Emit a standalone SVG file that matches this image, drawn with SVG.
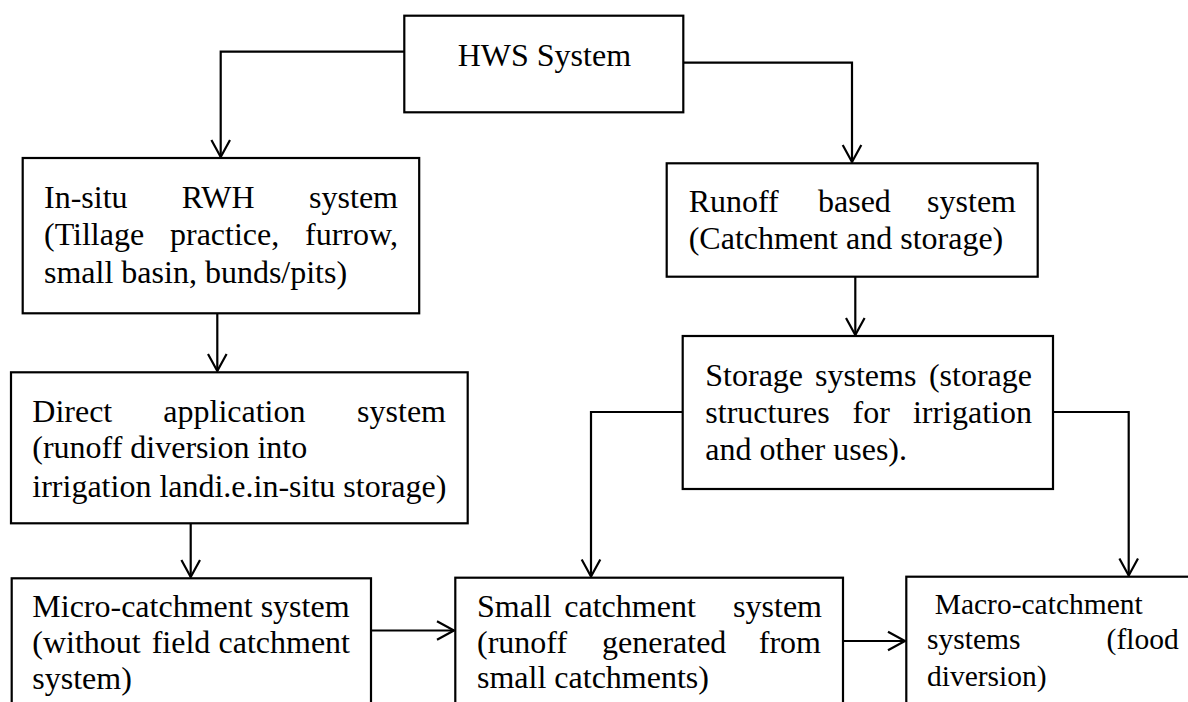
<svg xmlns="http://www.w3.org/2000/svg" width="1188" height="702" viewBox="0 0 1188 702">
<style>
.box{fill:#fff;stroke:#000;stroke-width:2.2}
.t{font-family:"Liberation Serif","Times New Roman",serif;font-size:32px;fill:#000}
.tm{font-family:"Liberation Serif","Times New Roman",serif;font-size:29.5px;fill:#000}
.e{text-anchor:end}
.c{fill:none;stroke:#000;stroke-width:2.2}
</style>
<defs>
<marker id="arr" markerUnits="userSpaceOnUse" markerWidth="24" markerHeight="24" viewBox="-20 -12 24 24" refX="0" refY="0" orient="auto">
<path d="M-17,-9.3 L0,0 L-17,9.3" fill="none" stroke="#000" stroke-width="2.2"/>
</marker>
</defs>
<rect width="1188" height="702" fill="#fff"/>
<g id="connectors">
<path class="c" d="M404.3,51.7 H220.7 V157" marker-end="url(#arr)"/>
<path class="c" d="M683.3,62.7 H852 V162" marker-end="url(#arr)"/>
<path class="c" d="M217.3,313.3 V371" marker-end="url(#arr)"/>
<path class="c" d="M855.3,276.7 V335" marker-end="url(#arr)"/>
<path class="c" d="M190.7,523.3 V577" marker-end="url(#arr)"/>
<path class="c" d="M682.7,412 H591 V576.5" marker-end="url(#arr)"/>
<path class="c" d="M1053,412 H1128.7 V575.5" marker-end="url(#arr)"/>
<path class="c" d="M371,630.5 H454" marker-end="url(#arr)"/>
<path class="c" d="M843,641 H905" marker-end="url(#arr)"/>
</g>
<g id="hws">
<rect class="box" x="404.3" y="15.7" width="279" height="96.6"/>
<text class="t" x="457.7" y="65.7">HWS System</text>
</g>
<g id="insitu">
<rect class="box" x="22.7" y="158" width="396.5" height="155.3"/>
<text class="t" y="208.3"><tspan x="44">In-situ</tspan><tspan x="181.7">RWH</tspan></text>
<text class="t e" x="398" y="208.3">system</text>
<text class="t" y="245"><tspan x="44">(Tillage</tspan><tspan x="170">practice,</tspan></text>
<text class="t e" x="398" y="245">furrow,</text>
<text class="t" x="44" y="283">small basin, bunds/pits)</text>
</g>
<g id="runoff">
<rect class="box" x="666.7" y="163.3" width="371" height="113.4"/>
<text class="t" y="212"><tspan x="688.7">Runoff</tspan><tspan x="818">based</tspan></text>
<text class="t e" x="1016" y="212">system</text>
<text class="t" x="688.7" y="248.7">(Catchment and storage)</text>
</g>
<g id="storage">
<rect class="box" x="682.7" y="336" width="370.3" height="153"/>
<text class="t" y="386"><tspan x="705.3">Storage</tspan><tspan x="815">systems</tspan></text>
<text class="t e" x="1032" y="386">(storage</text>
<text class="t" y="422.7"><tspan x="705.3">structures</tspan><tspan x="852.5">for</tspan></text>
<text class="t e" x="1032" y="422.7">irrigation</text>
<text class="t" x="705.3" y="459.5">and other uses).</text>
</g>
<g id="direct">
<rect class="box" x="11" y="372.3" width="456.7" height="151"/>
<text class="t" y="421.7"><tspan x="32.3">Direct</tspan><tspan x="163.3">application</tspan></text>
<text class="t e" x="446" y="421.7">system</text>
<text class="t" x="32.3" y="458.3">(runoff diversion into</text>
<text class="t" x="32.3" y="496.7">irrigation landi.e.in-situ storage)</text>
</g>
<g id="micro">
<rect class="box" x="11.7" y="578.3" width="359.3" height="140"/>
<text class="t" x="32.3" y="616.7">Micro-catchment system</text>
<text class="t" y="652.7"><tspan x="32.3">(without</tspan><tspan x="151.7">field</tspan></text>
<text class="t e" x="350" y="652.7">catchment</text>
<text class="t" x="32.3" y="689.3">system)</text>
</g>
<g id="small">
<rect class="box" x="455.3" y="577.7" width="387.7" height="140"/>
<text class="t" y="616.7"><tspan x="477">Small</tspan><tspan x="564.3">catchment</tspan></text>
<text class="t e" x="822" y="616.7">system</text>
<text class="t" y="652.7"><tspan x="477">(runoff</tspan><tspan x="602">generated</tspan></text>
<text class="t e" x="821" y="652.7">from</text>
<text class="t" x="477" y="688">small catchments)</text>
</g>
<g id="macro">
<rect class="box" x="906.3" y="576.7" width="300" height="140"/>
<text class="tm" x="934.7" y="614.3">Macro-catchment</text>
<text class="tm" x="927" y="649.3">systems</text>
<text class="tm e" x="1178.7" y="649.3">(flood</text>
<text class="tm" x="927" y="686">diversion)</text>
</g>
</svg>
